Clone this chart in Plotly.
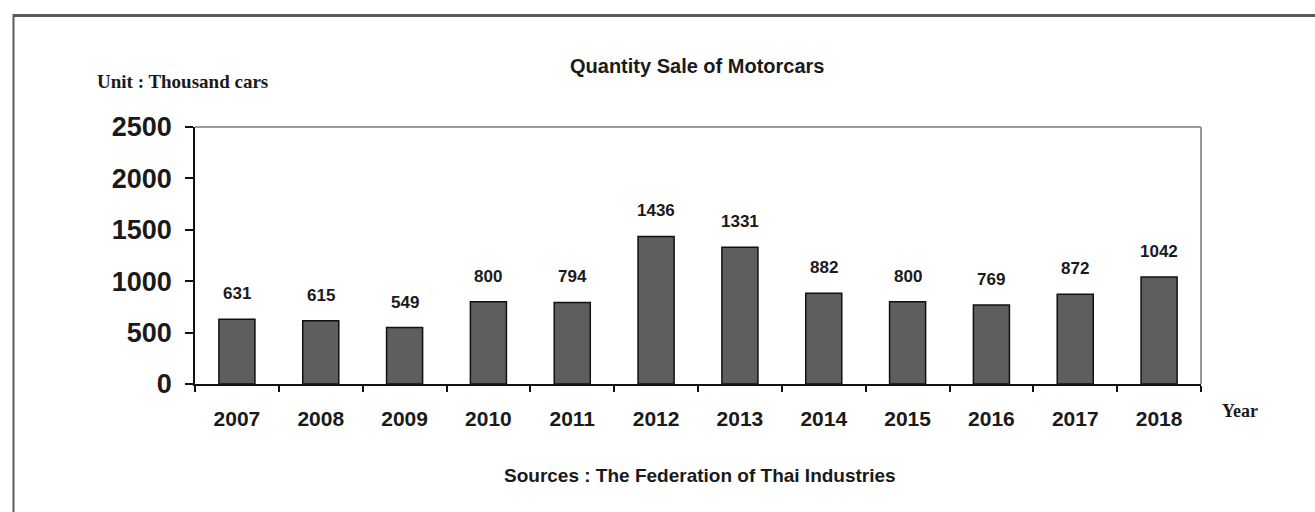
import plotly.graph_objects as go

years = ["2007", "2008", "2009", "2010", "2011", "2012",
         "2013", "2014", "2015", "2016", "2017", "2018"]
sales = [631, 615, 549, 800, 794, 1436, 1331, 882, 800, 769, 872, 1042]
y_ticks = [0, 500, 1000, 1500, 2000, 2500]

SANS = "Arial, Liberation Sans, sans-serif"
SERIF = "Times New Roman, Liberation Serif, serif"

fig = go.Figure()
fig.add_trace(go.Bar(
    x=years, y=sales, width=0.43,
    marker=dict(color="#5e5e5e", line=dict(color="#111111", width=1.5)),
    hoverinfo="x+y",
))

# value labels above each bar (x given as category index)
for i, v in enumerate(sales):
    fig.add_annotation(x=i, y=v, xref="x", yref="y", text=str(v), showarrow=False,
                       xanchor="center", yanchor="bottom", yshift=14,
                       font=dict(family=SANS, size=17, color="#1a1a1a", weight="bold"))

fig.update_layout(
    width=1315, height=512,
    margin=dict(l=195, r=114, t=127, b=128),
    paper_bgcolor="white", plot_bgcolor="white",
    showlegend=False,
)

fig.update_xaxes(
    type="category", range=[-0.5, 11.5],
    showline=True, linecolor="#111111", linewidth=2,
    ticks="outside", tickson="boundaries", ticklen=6, tickcolor="#111111", tickwidth=1.5,
    tickfont=dict(family=SANS, size=21, color="#1a1a1a", weight="bold"),
    ticklabelstandoff=15,
    showgrid=False, zeroline=False,
)
fig.update_yaxes(
    range=[0, 2500], tickvals=y_ticks,
    showline=True, linecolor="#111111", linewidth=1.5,
    ticks="outside", ticklen=8, tickcolor="#111111", tickwidth=1.5,
    tickfont=dict(family=SANS, size=27, color="#1a1a1a", weight="bold"),
    ticklabelstandoff=8,
    showgrid=False, zeroline=False,
)

# light frame on the top and right edges of the plotting area
fig.add_shape(type="line", xref="paper", yref="paper", x0=0, x1=1, y0=1, y1=1,
              line=dict(color="#9a9a9a", width=2))
fig.add_shape(type="line", xref="paper", yref="paper", x0=1, x1=1, y0=0, y1=1,
              line=dict(color="#9a9a9a", width=2))

# outer page frame (top and left edges)
W, L, T, H = 1006.0, 195.0, 127.0, 257.0
def px(xp):
    return (xp - L) / W
def py(yp):
    return (T + H - yp) / H

fig.add_shape(type="line", xref="paper", yref="paper",
              x0=px(13), x1=px(1320), y0=py(15.5), y1=py(15.5),
              line=dict(color="#5a5a5a", width=3))
fig.add_shape(type="line", xref="paper", yref="paper",
              x0=px(13.5), x1=px(13.5), y0=py(14), y1=py(520),
              line=dict(color="#5a5a5a", width=2))

# titles and notes
def note(text, cx, cy, family, size):
    fig.add_annotation(xref="paper", yref="paper", x=px(cx), y=py(cy),
                       xanchor="center", yanchor="middle",
                       text=text, showarrow=False,
                       font=dict(family=family, size=size, color="#1a1a1a", weight="bold"))

note("Quantity Sale of Motorcars", 697, 66, SANS, 20)
note("Unit : Thousand cars", 182, 81, SERIF, 19)
note("Year", 1240, 411, SERIF, 18)
note("Sources : The Federation of Thai Industries", 700, 475, SANS, 19)

fig.write_html("out.html")
